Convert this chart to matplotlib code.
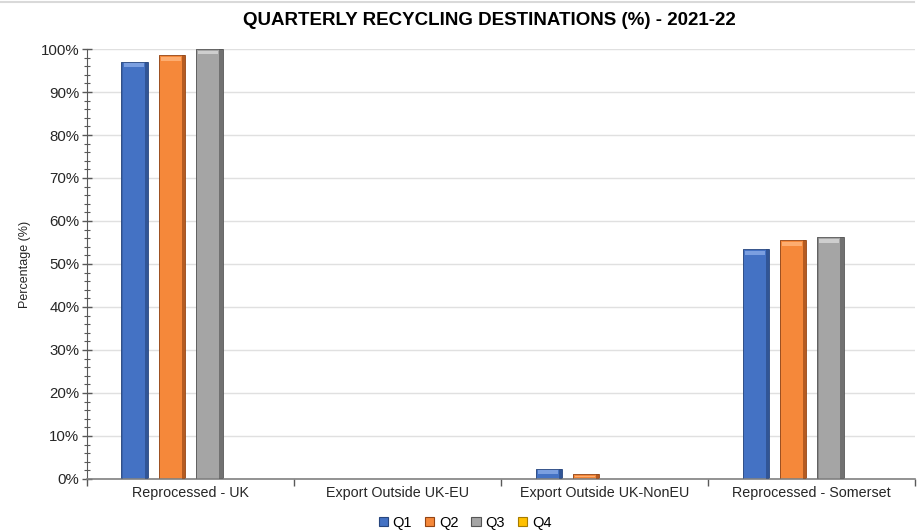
import numpy as np
import matplotlib
matplotlib.use("Agg")
import matplotlib.pyplot as plt
from matplotlib.lines import Line2D
from matplotlib.patches import Rectangle
from matplotlib.ticker import MultipleLocator, PercentFormatter, FixedLocator

plt.rcParams["font.family"] = ["Liberation Sans", "DejaVu Sans"]

categories = ["Reprocessed - UK", "Export Outside UK-EU",
              "Export Outside UK-NonEU", "Reprocessed - Somerset"]
quarters = ["Q1", "Q2", "Q3", "Q4"]
q1 = [97.0, 0.0, 2.4, 53.4]
q2 = [98.5, 0.0, 1.1, 55.5]
q3 = [100.0, 0.0, 0.0, 56.2]
q4 = [0.0, 0.0, 0.0, 0.0]
series = [q1, q2, q3, q4]

face = ["#4472C4", "#F5883A", "#A5A5A5", "#FFC000"]
dark = ["#27467E", "#934414", "#555555", "#A67C00"]
light = ["#86A8E6", "#FFB47A", "#D6D6D6", "#FFE080"]


def bevel_bars(ax, bars, fc, dc, lc):
    """Give each bar a raised look: dark side edges, light top strip."""
    for b in bars:
        x, w, h = b.get_x(), b.get_width(), b.get_height()
        if h <= 0:
            continue
        b.set_facecolor(fc)
        b.set_edgecolor(dc)
        b.set_linewidth(0.6)
        ax.add_patch(Rectangle((x + w * 0.86, 0), w * 0.14, h, facecolor=dc,
                               alpha=0.65, linewidth=0, zorder=3))
        ax.add_patch(Rectangle((x, 0), w * 0.07, h, facecolor=dc,
                               alpha=0.35, linewidth=0, zorder=3))
        strip = min(h * 0.35, 0.9)
        ax.add_patch(Rectangle((x + w * 0.1, h - strip - 0.35), w * 0.74, strip,
                               facecolor=lc, alpha=0.85, linewidth=0, zorder=3))


fig = plt.figure(figsize=(9.17, 5.31), dpi=100)
fig.add_artist(Line2D([0, 0.997], [0.997, 0.997], color="#D9D9D9",
                      linewidth=1.5, transform=fig.transFigure))
ax = fig.add_axes([0.0949, 0.098, 0.903, 0.8097])

x = np.arange(len(categories))
n = len(series)
step = 0.179
width = 0.13
for i, vals in enumerate(series):
    offs = (i - (n - 1) / 2) * step
    bars = ax.bar(x + offs, vals, width=width, color=face[i], label=quarters[i],
                  zorder=2)
    bevel_bars(ax, bars, face[i], dark[i], light[i])

ax.set_xlim(-0.5, len(categories) - 0.5)
ax.set_ylim(0, 100)
ax.yaxis.set_major_locator(MultipleLocator(10))
ax.yaxis.set_minor_locator(MultipleLocator(2))
ax.yaxis.set_major_formatter(PercentFormatter(decimals=0))
ax.tick_params(axis="y", which="major", direction="inout", length=7, width=1,
               color="#595959", labelsize=10.8, labelcolor="#262626", pad=2)
ax.tick_params(axis="y", which="minor", direction="inout", length=4, width=0.8,
               color="#595959")

ax.set_xticks(x)
ax.set_xticklabels(categories)
ax.xaxis.set_minor_locator(FixedLocator(np.arange(len(categories) + 1) - 0.5))
ax.tick_params(axis="x", which="major", length=0, labelsize=10.3,
               labelcolor="#262626", pad=5)
ax.tick_params(axis="x", which="minor", direction="out", length=5, width=1,
               color="#595959")

ax.grid(axis="y", color="#E0E0E0", linewidth=1, zorder=0)
ax.set_axisbelow(True)
for s in ["top", "right"]:
    ax.spines[s].set_visible(False)
ax.spines["left"].set_color("#595959")
ax.spines["bottom"].set_color("#808080")
ax.spines["bottom"].set_linewidth(1.2)

ax.set_ylabel("Percentage (%)", fontsize=9, color="#262626", labelpad=7)
fig.suptitle("QUARTERLY RECYCLING DESTINATIONS (%) - 2021-22", x=0.534, y=0.978,
             fontsize=13.5, fontweight="bold", color="#000000")

handles = [Rectangle((0, 0), 1, 1, facecolor=face[i], edgecolor=dark[i],
                     linewidth=0.8) for i in range(n)]
fig.legend(handles, quarters, loc="lower center", bbox_to_anchor=(0.507, -0.022),
           ncol=4, frameon=False, fontsize=10.5, handlelength=0.65,
           handleheight=0.65, handletextpad=0.3, columnspacing=0.9)

fig.savefig("out.png", dpi=100)
